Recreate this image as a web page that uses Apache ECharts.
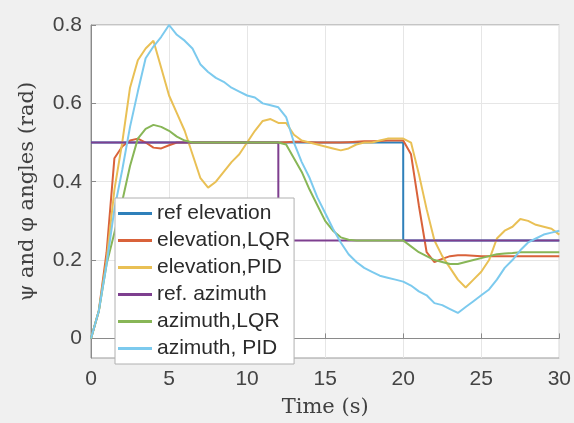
<!DOCTYPE html>
<html lang="en">
<head>
    <meta charset="UTF-8">
    <title>psi and phi angles</title>
    <script src="https://cdn.jsdelivr.net/npm/echarts@6/dist/echarts.min.js"></script>
    <style>
        html, body { margin: 0; padding: 0; background: #f0f0f0; }
    </style>
</head>
<body>
    <div id="main" style="width:574px; height:423px"></div>
    <script type="text/javascript">
        // time samples (s)
        var time = [0, 0.5, 1, 1.5, 2, 2.5, 3, 3.5, 4, 4.5, 5, 5.5, 6, 6.5, 7, 7.5, 8, 8.5, 9, 9.5,
            10, 10.5, 11, 11.5, 12, 12.5, 13, 13.5, 14, 14.5, 15, 15.5, 16, 16.5, 17, 17.5, 18, 18.5, 19, 19.5,
            20, 20.5, 21, 21.5, 22, 22.5, 23, 23.5, 24, 24.5, 25, 25.5, 26, 26.5, 27, 27.5, 28, 28.5, 29, 29.5, 30];

        // reference steps
        var refElevT = [0, 20, 20, 30];
        var refElevV = [0.5, 0.5, 0.25, 0.25];
        var refAzT = [0, 12, 12, 30];
        var refAzV = [0.5, 0.5, 0.25, 0.25];

        // responses (rad)
        var elevLQR = [0, 0.07, 0.22, 0.46, 0.49, 0.505, 0.51, 0.5, 0.487, 0.485, 0.493, 0.5, 0.5, 0.5, 0.5, 0.5, 0.5, 0.5, 0.5, 0.5,
            0.5, 0.5, 0.5, 0.5, 0.5, 0.501, 0.502, 0.502, 0.501, 0.5, 0.5, 0.5, 0.5, 0.501, 0.502, 0.503, 0.503, 0.504, 0.505, 0.505,
            0.505, 0.47, 0.34, 0.22, 0.195, 0.203, 0.21, 0.212, 0.212, 0.211, 0.21, 0.21, 0.21, 0.21, 0.21, 0.21, 0.21, 0.21, 0.21, 0.21,
            0.21];
        var elevPID = [0, 0.07, 0.2, 0.38, 0.5, 0.64, 0.71, 0.74, 0.76, 0.69, 0.62, 0.575, 0.53, 0.47, 0.41, 0.385, 0.4, 0.425, 0.45, 0.47,
            0.5, 0.53, 0.555, 0.56, 0.55, 0.55, 0.52, 0.505, 0.5, 0.495, 0.49, 0.485, 0.48, 0.485, 0.495, 0.5, 0.5, 0.505, 0.51, 0.51,
            0.51, 0.5, 0.42, 0.33, 0.25, 0.21, 0.18, 0.15, 0.13, 0.15, 0.17, 0.2, 0.255, 0.275, 0.285, 0.305, 0.3, 0.29, 0.285, 0.28,
            0.265];
        var azLQR = [0, 0.07, 0.19, 0.27, 0.35, 0.44, 0.51, 0.535, 0.545, 0.54, 0.53, 0.515, 0.505, 0.5, 0.5, 0.5, 0.5, 0.5, 0.5, 0.5,
            0.5, 0.5, 0.5, 0.5, 0.5, 0.495, 0.46, 0.425, 0.38, 0.34, 0.3, 0.275, 0.258, 0.252, 0.25, 0.25, 0.25, 0.25, 0.25, 0.25,
            0.25, 0.235, 0.22, 0.21, 0.2, 0.195, 0.19, 0.19, 0.195, 0.2, 0.205, 0.21, 0.215, 0.217, 0.218, 0.22, 0.22, 0.22, 0.22, 0.22,
            0.22];
        var azPID = [0, 0.07, 0.19, 0.33, 0.43, 0.54, 0.63, 0.715, 0.745, 0.77, 0.8, 0.775, 0.76, 0.74, 0.7, 0.68, 0.665, 0.655, 0.64, 0.63,
            0.62, 0.615, 0.6, 0.595, 0.59, 0.565, 0.5, 0.45, 0.41, 0.36, 0.32, 0.28, 0.245, 0.215, 0.195, 0.18, 0.17, 0.16, 0.155, 0.15,
            0.145, 0.135, 0.12, 0.11, 0.09, 0.085, 0.075, 0.065, 0.08, 0.095, 0.11, 0.125, 0.15, 0.18, 0.2, 0.225, 0.245, 0.255, 0.265, 0.27,
            0.275];

        var names = ['ref elevation', 'elevation,LQR', 'elevation,PID', 'ref. azimuth', 'azimuth,LQR', 'azimuth, PID'];
        var colors = ['#2f80ba', '#d9623a', '#e9c055', '#7e3f8f', '#88b657', '#7ccaee'];
        var yTicks = [0, 0.2, 0.4, 0.6, 0.8];

        function pairs(xs, ys) {
            return xs.map(function (x, i) { return [x, ys[i]]; });
        }

        var lines = [
            pairs(refElevT, refElevV),
            pairs(time, elevLQR),
            pairs(time, elevPID),
            pairs(refAzT, refAzV),
            pairs(time, azLQR),
            pairs(time, azPID)
        ];

        var chartDom = document.getElementById('main');
        var myChart = echarts.init(chartDom);
        var option;

        option = {
            backgroundColor: '#f0f0f0',
            animation: false,
            color: colors,
            grid: {
                left: 91, right: 11, top: 25, bottom: 61,
                show: true,
                backgroundColor: '#ffffff',
                borderColor: '#9a9a9a',
                borderWidth: 1
            },
            legend: {
                orient: 'vertical',
                left: 115,
                top: 198,
                data: names,
                icon: 'rect',
                itemWidth: 34,
                itemHeight: 3,
                itemGap: 6,
                padding: [5, 4, 5, 3],
                backgroundColor: '#ffffff',
                borderColor: '#b0b0b0',
                borderWidth: 1,
                borderRadius: 0,
                textStyle: {
                    fontFamily: 'Liberation Sans',
                    fontSize: 21,
                    lineHeight: 20,
                    color: '#2b2b2b'
                }
            },
            xAxis: {
                type: 'value',
                min: 0,
                max: 30,
                interval: 5,
                name: 'Time (s)',
                nameLocation: 'middle',
                nameGap: 39,
                nameTextStyle: { fontFamily: 'DejaVu Serif', fontSize: 21, color: '#404040' },
                axisLine: { show: true, lineStyle: { color: '#8a8a8a' } },
                axisTick: { inside: true, length: 5, lineStyle: { color: '#8a8a8a' } },
                axisLabel: { fontFamily: 'Liberation Sans', fontSize: 21, color: '#444', margin: 11 },
                splitLine: { show: true, lineStyle: { color: '#e6e6e6' } }
            },
            yAxis: {
                type: 'value',
                min: -0.05,
                max: 0.8,
                name: 'ψ and φ angles (rad)',
                nameLocation: 'middle',
                nameGap: 53,
                nameTextStyle: { fontFamily: 'DejaVu Serif', fontSize: 21, color: '#404040' },
                axisLine: { show: true, lineStyle: { color: '#8a8a8a' } },
                axisTick: { inside: true, length: 5, customValues: yTicks, lineStyle: { color: '#8a8a8a' } },
                axisLabel: {
                    fontFamily: 'Liberation Sans', fontSize: 21, color: '#444', margin: 9,
                    customValues: yTicks,
                    formatter: function (v) { return v === 0 ? '0' : v.toFixed(1); }
                },
                splitLine: { show: true, lineStyle: { color: '#e6e6e6' } }
            },
            series: names.map(function (n, i) {
                return {
                    name: n,
                    type: 'line',
                    data: lines[i],
                    symbol: 'none',
                    smooth: false,
                    lineStyle: { width: 2, color: colors[i] },
                    itemStyle: { color: colors[i] }
                };
            })
        };

        option && myChart.setOption(option);
    </script>
</body>
</html>
